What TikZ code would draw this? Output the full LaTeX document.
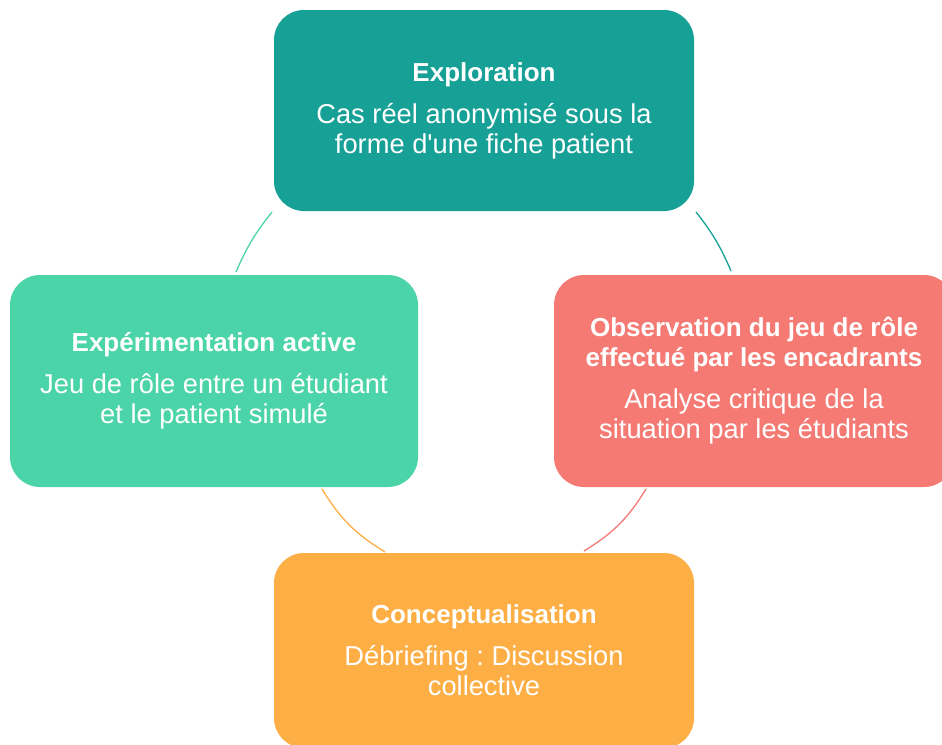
\documentclass[tikz,border=0pt]{standalone}
\usepackage{fontspec}
\setmainfont{Liberation Sans}
\frenchspacing
\definecolor{cteal}{HTML}{16A096}
\definecolor{cgreen}{HTML}{4CD4A9}
\definecolor{csalmon}{HTML}{F47A73}
\definecolor{corange}{HTML}{FDAF45}
\tikzset{
  cyclebox/.style={rounded corners=30pt, inner sep=0pt, text=white, align=center,
    font=\fontsize{27.3pt}{30pt}\selectfont},
  cyclearc/.style={line width=1.3pt, bend left=#1},
}
\newcommand{\ttl}[1]{{\fontsize{26pt}{30pt}\selectfont\bfseries #1}}
\begin{document}
\begin{tikzpicture}[x=1pt,y=-1pt]
\useasboundingbox (0,0) rectangle (942,744);
\clip (0,0) rectangle (942,744);
\node[cyclebox, fill=cteal, minimum width=420pt, minimum height=201pt] (top) at (484,110.5)
  {\ttl{Exploration}\\[12pt]Cas réel anonymisé sous la\\forme d\textquotesingle une fiche patient};
\node[cyclebox, fill=cgreen, minimum width=408pt, minimum height=212pt] (left) at (214,381)
  {\ttl{Expérimentation active}\\[12pt]Jeu de rôle entre un étudiant\\et le patient simulé};
\node[cyclebox, fill=csalmon, minimum width=400pt, minimum height=212pt] (right) at (754,381)
  {\ttl{Observation du jeu de rôle}\\\ttl{effectué par les encadrants}\\[12pt]Analyse critique de la\\situation par les étudiants};
\node[cyclebox, fill=corange, minimum width=420pt, minimum height=195pt] (bottom) at (484,650.5)
  {\ttl{Conceptualisation}\\[12pt]Débriefing : Discussion\\collective};
\coordinate (a1s) at (236,272);
\coordinate (a1e) at (272,212);
\coordinate (a2s) at (696,212);
\coordinate (a2e) at (731,271);
\coordinate (a3s) at (646,489);
\coordinate (a3e) at (584,551);
\coordinate (a4s) at (385,552);
\coordinate (a4e) at (322,489);
\draw[cgreen, cyclearc=7.5] (a1s) to (a1e);
\draw[cteal, cyclearc=7.5] (a2s) to (a2e);
\draw[csalmon, cyclearc=13.5] (a3s) to (a3e);
\draw[corange, cyclearc=13.5] (a4s) to (a4e);
\end{tikzpicture}
\end{document}
